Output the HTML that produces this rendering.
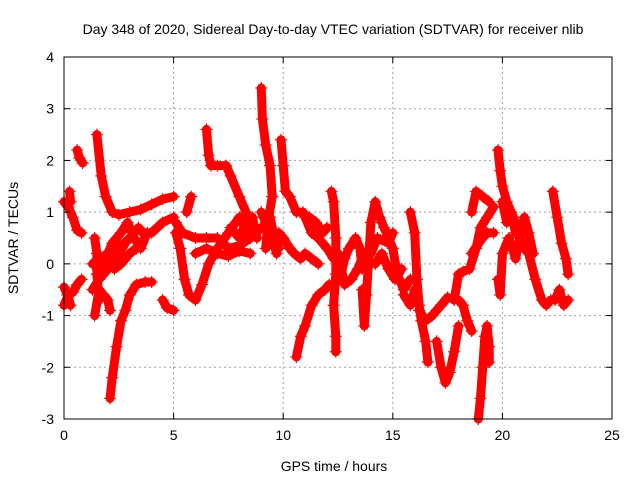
<!DOCTYPE html>
<html><head><meta charset="utf-8"><style>
body{margin:0;background:#fff}
svg text{font-family:"Liberation Sans",sans-serif;font-size:14px;fill:#000}
</style></head><body>
<svg id="chart" width="640" height="480" xmlns="http://www.w3.org/2000/svg">
<text x="333" y="34" text-anchor="middle">Day 348 of 2020, Sidereal Day-to-day VTEC variation (SDTVAR) for receiver nlib</text>
<text x="334" y="471" text-anchor="middle">GPS time / hours</text>
<text x="18" y="238" text-anchor="middle" transform="rotate(-90 18 238)">SDTVAR / TECUs</text>
<g id="grid"></g><g id="marks"></g><g id="axes"></g>
</svg>
<script>
const xTicks=[0,5,10,15,20,25];
const yTicks=[-3,-2,-1,0,1,2,3,4];
const tracks=[
[[0,1.2],[0.2,1.1],[0.4,0.9],[0.6,0.65],[0.8,0.6]],
[[0.25,1.4],[0.3,1.2]],
[[0.6,2.2],[0.7,2.05],[0.85,1.95]],
[[0,-0.8],[0.2,-0.6],[0.4,-0.55],[0.6,-0.4],[0.8,-0.3]],
[[0,-0.45],[0.15,-0.6],[0.3,-0.8]],
[[1.5,2.5],[1.7,1.7],[1.9,1.3],[2.2,1.0],[2.5,0.95],[3,1.0],[3.5,1.05],[4,1.15],[4.5,1.25],[5,1.3]],
[[1.3,0],[1.6,0.1],[2,0.2],[2.5,0.3],[3,0.5],[3.4,0.7],[3.6,0.6],[4,0.6],[4.5,0.8],[5,0.9]],
[[1.3,-0.5],[1.6,-0.3],[2,-0.1],[2.5,0.2],[2.8,0.4]],
[[1.5,-0.2],[1.8,0.0],[2.2,0.4],[2.6,0.6],[2.9,0.8],[3.2,0.5],[3.5,0.3],[3.8,0.6]],
[[2.3,-0.1],[2.6,0.0],[3,0.2],[3.3,0.3]],
[[2.1,-2.6],[2.2,-2.2],[2.4,-1.6],[2.6,-1.1],[2.8,-0.9],[3,-0.6],[3.3,-0.4],[3.7,-0.35],[4,-0.35]],
[[1.4,-1.0],[1.6,-0.5],[1.8,-0.6],[2,-0.7],[2.1,-0.9]],
[[1.4,0.5],[1.5,0.2],[1.5,-0.2],[1.6,-0.7]],
[[4.5,-0.7],[4.7,-0.85],[5,-0.9]],
[[5.1,0.6],[5.3,0.3],[5.5,-0.3],[5.7,-0.6],[6,-0.7],[6.3,-0.4],[6.6,0],[7,0.3],[7.5,0.6],[8,0.9],[8.5,0.5]],
[[5.1,0.8],[5.4,0.6],[6,0.5],[6.5,0.5],[7,0.5],[7.5,0.3],[8,0.35],[8.5,0.5],[9,0.7]],
[[6,0.2],[6.5,0.3],[7,0.2],[7.5,0.15],[8,0.25],[8.5,0.2]],
[[7.6,0.7],[8,0.5],[8.3,0.8],[8.6,0.9],[8.8,0.5]],
[[5.6,1.0],[5.8,1.3]],
[[6.5,2.6],[6.6,2.1],[6.7,1.9],[7,1.9],[7.4,1.9],[7.6,1.7],[8,1.3],[8.3,1.0],[8.6,0.6]],
[[9,3.4],[9.05,2.8],[9.2,2.3],[9.4,1.9],[9.5,1.3],[9.3,0.8],[9.2,0.3],[9.5,0.5],[9.7,0.2]],
[[9,1.0],[9.2,0.8],[9.4,0.9],[9.6,0.5],[9.8,0.3]],
[[9.9,2.4],[10,1.9],[10.1,1.4],[10.3,1.3],[10.6,1.0],[10.9,1.0],[11,0.9],[11.3,0.6],[11.6,0.5],[12,0.3],[12.3,0.1]],
[[9.8,0.6],[10,0.5],[10.3,0.3],[10.5,0.2],[10.8,0.1],[11,0.2],[11.3,0.1],[11.6,0.0]],
[[11.2,0.9],[11.5,0.8],[11.8,0.6],[12,0.7]],
[[10.6,-1.8],[10.8,-1.4],[11,-1.2],[11.3,-0.8],[11.6,-0.6],[11.9,-0.5],[12.1,-0.4]],
[[12.2,1.4],[12.3,1.2],[12.4,0.5],[12.4,-0.2],[12.3,-0.8],[12.4,-1.4],[12.4,-1.7]],
[[12.6,-0.3],[12.8,0.1],[13,0.3],[13.3,0.5],[13.5,0.3],[13.6,-0.1]],
[[12.5,0.2],[12.8,-0.4],[13.1,-0.3],[13.4,-0.1],[13.7,0.2]],
[[13.6,-0.5],[13.7,-1.2],[13.8,-0.6],[14,0.8],[14.2,1.2],[14.4,0.9],[14.6,0.7],[15,0.3],[15.2,-0.2],[15.5,-0.5],[15.8,-0.3]],
[[14,0.2],[14.3,0.5],[14.8,0.4],[15,0.6]],
[[14.2,0.0],[14.5,0.2],[14.8,-0.1],[15.1,-0.3],[15.4,-0.1]],
[[15.8,1.0],[16,0.6],[16.1,-0.3],[16.2,-0.8],[16.3,-1.1],[16.5,-1.5],[16.6,-1.9]],
[[15.5,-0.6],[15.8,-0.8],[16,-0.5]],
[[16.2,-0.9],[16.5,-1.1],[16.8,-1.0],[17,-0.9],[17.2,-0.8],[17.5,-0.65],[18,-0.7],[18.2,-0.8],[18.4,-1.1],[18.6,-1.3]],
[[17,-1.5],[17.2,-2.0],[17.4,-2.3],[17.6,-2.1],[17.8,-1.7],[18,-1.2]],
[[17.8,-0.7],[18,-0.2],[18.2,-0.15],[18.5,-0.1],[18.8,0.3],[19,0.7],[19.3,0.9],[19.6,1.1]],
[[18.6,1.0],[18.8,1.4],[19.1,1.3],[19.4,1.2]],
[[18.6,0.2],[19,0.45],[19.3,0.6],[19.6,0.6]],
[[18.9,-3.0],[19,-2.6],[19.1,-2.0],[19.2,-1.4],[19.3,-1.2],[19.4,-1.6],[19.4,-1.9]],
[[19.8,2.2],[19.9,1.8],[20,1.5],[20.2,1.2],[20.5,0.9],[20.8,0.5],[21,0.3],[21.2,0.2],[21.5,-0.3],[21.8,-0.7],[22,-0.8],[22.2,-0.7]],
[[19.8,-0.3],[19.9,-0.6],[20,0.2],[20.3,0.5],[20.6,0.1],[20.8,0.5],[21,0.9],[21.2,0.6],[21.4,0.2]],
[[20,1.2],[20.2,0.8],[20.4,1.0],[20.6,0.6],[20.9,0.8]],
[[22.3,1.4],[22.5,0.9],[22.7,0.4],[22.9,0.1],[23,-0.2]],
[[22.4,-0.7],[22.6,-0.5],[22.8,-0.8],[23,-0.7]]
];
const L=64,R=612,T=57,B=419,xmin=0,xmax=25,ymin=-3,ymax=4;
const X=v=>L+(v-xmin)/(xmax-xmin)*(R-L);
const Y=v=>B-(v-ymin)/(ymax-ymin)*(B-T);
const NS='http://www.w3.org/2000/svg';
function mk(tag,attrs,parent){const e=document.createElementNS(NS,tag);for(const k in attrs)e.setAttribute(k,attrs[k]);parent.appendChild(e);return e;}
const grid=document.getElementById('grid'),axes=document.getElementById('axes'),marks=document.getElementById('marks');
xTicks.forEach(t=>{
 if(t>xmin&&t<xmax){const g=mk('line',{x1:X(t),x2:X(t),y1:T,y2:B,stroke:'#a0a0a0','stroke-dasharray':'2,3'},grid);
 
 }
 mk('line',{x1:X(t),x2:X(t),y1:B,y2:B-6,stroke:'#000'},axes);
 mk('line',{x1:X(t),x2:X(t),y1:T,y2:T+6,stroke:'#000'},axes);
 const tx=mk('text',{x:X(t),y:B+21,'text-anchor':'middle'},axes);tx.textContent=t;
 
 
});
yTicks.forEach(t=>{
 if(t>ymin&&t<ymax){const g=mk('line',{x1:L,x2:R,y1:Y(t),y2:Y(t),stroke:'#a0a0a0','stroke-dasharray':'2,3'},grid);
 
 }
 mk('line',{x1:L,x2:L+6,y1:Y(t),y2:Y(t),stroke:'#000'},axes);
 mk('line',{x1:R,x2:R-6,y1:Y(t),y2:Y(t),stroke:'#000'},axes);
 const tx=mk('text',{x:L-10,y:Y(t)+5,'text-anchor':'end'},axes);tx.textContent=t;
 
 
});
const fr=mk('rect',{x:L,y:T,width:R-L,height:B-T,fill:'none',stroke:'#000'},axes);


tracks.forEach(tr=>{
 const pl=mk('polyline',{points:tr.map(p=>X(p[0])+','+Y(p[1])).join(' '),fill:'none',stroke:'#f00','stroke-width':9,'stroke-linejoin':'round','stroke-linecap':'round'},marks);
 
 
 tr.forEach(p=>{
  const x=X(p[0]),y=Y(p[1]);
  const m=mk('path',{d:`M${x-6},${y}h12M${x},${y-6}v12`,stroke:'#f00','stroke-width':1.2},marks);
  
  
 });
});
</script>
</body></html>
